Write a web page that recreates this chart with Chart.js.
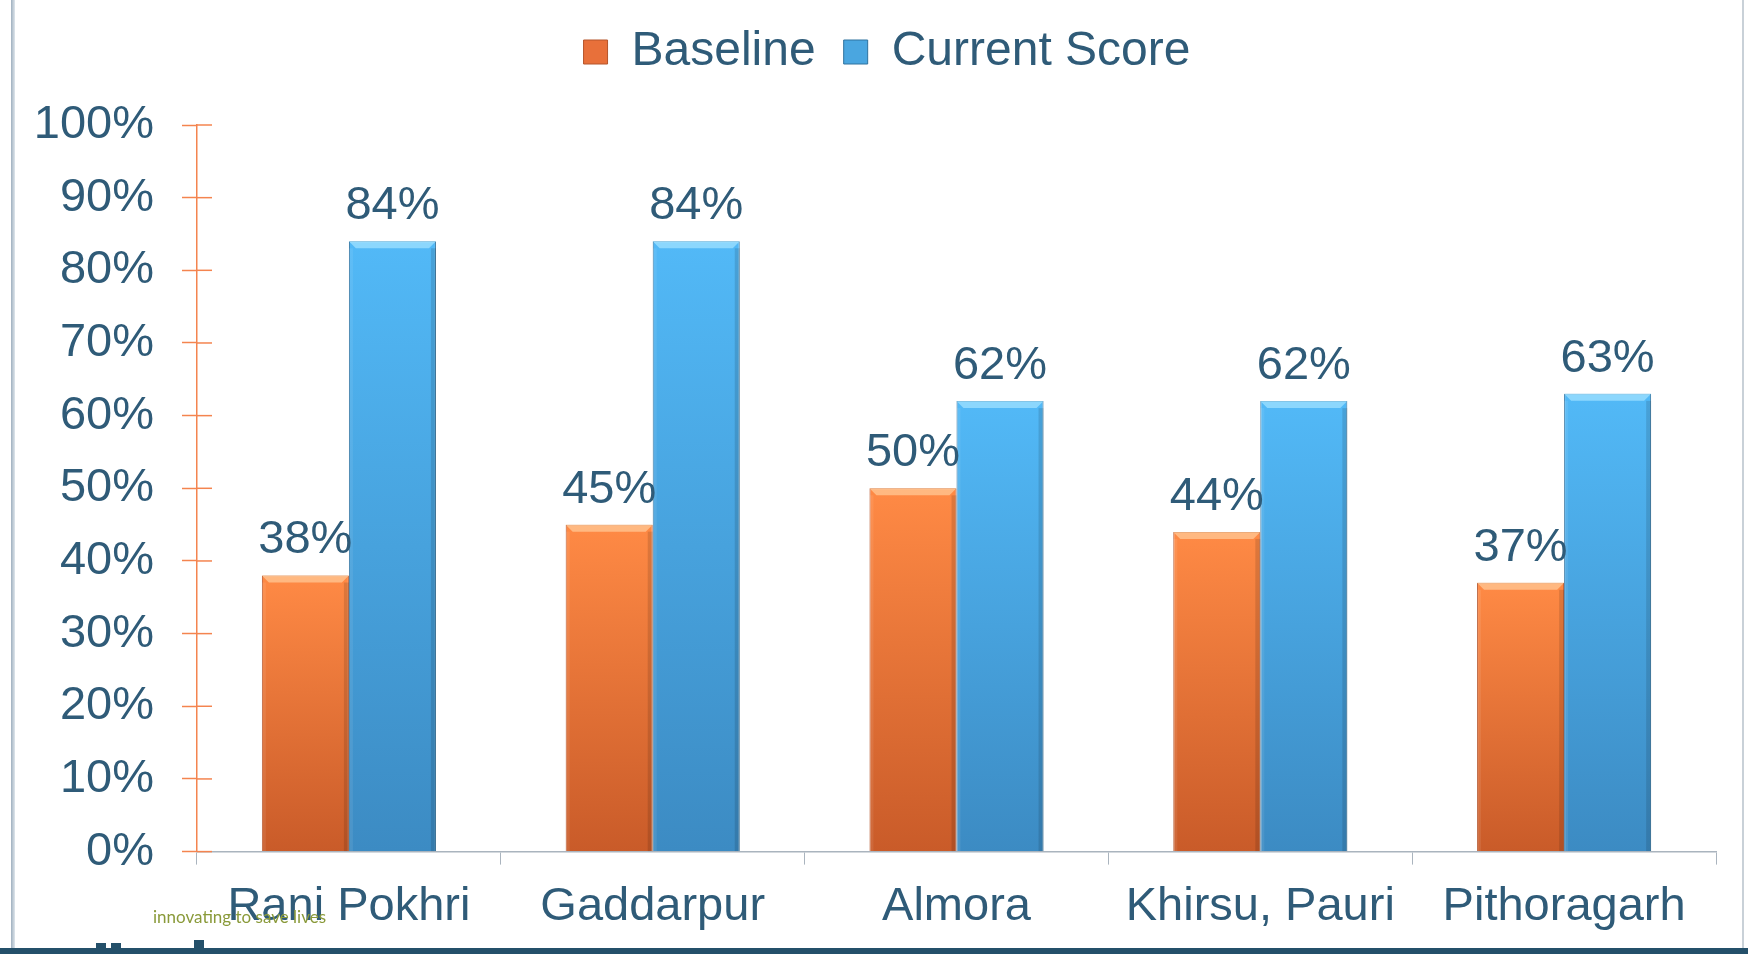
<!DOCTYPE html>
<html>
<head>
<meta charset="utf-8">
<script src="https://cdn.jsdelivr.net/npm/chart.js@4/dist/chart.umd.min.js"></script>
<style>
  html, body { margin: 0; padding: 0; background: #fff; }
  #wrap { position: relative; width: 1748px; height: 954px; overflow: hidden; }
  #chart { position: absolute; left: 0; top: 0; }
  .frame-left { position: absolute; left: 11px; top: 0; width: 4px; height: 954px;
    background: linear-gradient(to right, #9fb0bf, #dfe6ec); }
  .frame-right { position: absolute; left: 1742px; top: 0; width: 2px; height: 954px; background: #c9d1d8; }
  .band { position: absolute; left: 0; top: 948px; width: 1748px; height: 6px; background: #24506a; }
  .logo { position: absolute; background: #24506a; }
  .tagline { position: absolute; left: 153px; top: 906px; font-family: Lato, "DejaVu Sans", sans-serif;
    font-size: 17px; color: #8a9a3a; }
</style>
</head>
<body>
<div id="wrap">
  <canvas id="chart" width="1748" height="954"></canvas>
  <div class="frame-left"></div>
  <div class="frame-right"></div>
  <div class="band"></div>
  <div class="logo" style="left:96px; top:943px; width:10px; height:6px;"></div>
  <div class="logo" style="left:111px; top:943px; width:10px; height:6px;"></div>
  <div class="logo" style="left:194px; top:940px; width:10px; height:9px;"></div>
  <div class="tagline">innovating to save lives</div>
</div>
<script>
const CATEGORIES = ['Rani Pokhri', 'Gaddarpur', 'Almora', 'Khirsu, Pauri', 'Pithoragarh'];
const BASELINE = [0.38, 0.45, 0.50, 0.44, 0.37];
const CURRENT = [0.84, 0.84, 0.62, 0.62, 0.63];
const Y_TICKS = [0, 0.1, 0.2, 0.3, 0.4, 0.5, 0.6, 0.7, 0.8, 0.9, 1.0];

const TEXT = '#2f5b78';
const FONT = 'Liberation Sans, Arial, sans-serif';

function barGradient(top, bottom) {
  return ctx => {
    const chart = ctx.chart;
    if (!chart.chartArea || ctx.raw == null) return top;
    const y = chart.scales.y;
    const g = chart.ctx.createLinearGradient(0, y.getPixelForValue(ctx.raw), 0, y.getPixelForValue(0));
    g.addColorStop(0, top);
    g.addColorStop(1, bottom);
    return g;
  };
}

// legend sits above the top padding, nudged right like the original slide
const legendShift = {
  id: 'legendShift',
  afterLayout(chart) {
    const lg = chart.legend;
    lg.top -= 39; lg.bottom -= 39;
    lg.left += 29; lg.right += 29;
  }
};

// bevel look: light top cap and darker side edges on each bar
const bevelPlugin = {
  id: 'bevel',
  afterDatasetsDraw(chart) {
    const c = chart.ctx;
    const caps = ['rgba(255,200,150,0.75)', 'rgba(160,225,255,0.75)'];
    chart.data.datasets.forEach((ds, di) => {
      chart.getDatasetMeta(di).data.forEach(bar => {
        const { x, y, width } = bar.getProps(['x', 'y', 'width'], true);
        const l = x - width / 2, r = x + width / 2, d = 7;
        c.save();
        c.fillStyle = caps[di];
        c.beginPath();
        c.moveTo(l, y); c.lineTo(r, y); c.lineTo(r - d, y + d); c.lineTo(l + d, y + d);
        c.closePath();
        c.fill();
        c.fillStyle = 'rgba(0,0,0,0.12)';
        c.fillRect(r - 5, y + d, 5, bar.base - y - d);
        c.fillStyle = 'rgba(255,255,255,0.08)';
        c.fillRect(l, y + d, 4, bar.base - y - d);
        c.restore();
      });
    });
  }
};

const labelPlugin = {
  id: 'valueLabels',
  afterDatasetsDraw(chart) {
    const c = chart.ctx;
    c.save();
    c.font = `47px ${FONT}`;
    c.fillStyle = TEXT;
    c.textAlign = 'center';
    c.textBaseline = 'alphabetic';
    chart.data.datasets.forEach((ds, di) => {
      chart.getDatasetMeta(di).data.forEach((bar, i) => {
        c.fillText(Math.round(ds.data[i] * 100) + '%', bar.x, bar.y - 22);
      });
    });
    c.restore();
  }
};

// y tick marks cross the axis into the plot
const yTickPlugin = {
  id: 'yTicksInside',
  afterDraw(chart) {
    const c = chart.ctx, y = chart.scales.y, left = chart.chartArea.left;
    c.save();
    c.strokeStyle = '#f4844f';
    c.lineWidth = 1.5;
    y.ticks.forEach(t => {
      const py = y.getPixelForValue(t.value);
      c.beginPath(); c.moveTo(left, py); c.lineTo(left + 15, py); c.stroke();
    });
    c.restore();
  }
};

new Chart(document.getElementById('chart'), {
  type: 'bar',
  data: {
    labels: CATEGORIES,
    datasets: [
      {
        label: 'Baseline',
        data: BASELINE,
        backgroundColor: barGradient('#ff8a45', '#c95b29'),
        borderColor: '#b5542a',
        borderWidth: 1,
        categoryPercentage: 0.573,
        barPercentage: 1.0
      },
      {
        label: 'Current Score',
        data: CURRENT,
        backgroundColor: barGradient('#52b9f7', '#3c8bc3'),
        borderColor: '#2f729f',
        borderWidth: 1,
        categoryPercentage: 0.573,
        barPercentage: 1.0
      }
    ]
  },
  options: {
    responsive: false,
    animation: false,
    layout: { padding: { top: 39, left: 0, right: 32, bottom: 5 } },
    plugins: {
      legend: {
        position: 'top',
        labels: {
          font: { family: FONT, size: 48 },
          color: TEXT,
          boxWidth: 24,
          boxHeight: 24,
          padding: 28,
          generateLabels(chart) {
            const fills = ['#e8703a', '#4aa6e0'];
            return chart.data.datasets.map((ds, i) => ({
              text: ds.label,
              fillStyle: fills[i],
              strokeStyle: i ? '#2f729f' : '#b5542a',
              lineWidth: 1,
              fontColor: TEXT,
              datasetIndex: i,
              hidden: false
            }));
          }
        }
      },
      tooltip: { enabled: false }
    },
    scales: {
      x: {
        grid: {
          display: true,
          drawOnChartArea: false,
          offset: true,
          tickLength: 13,
          tickColor: '#aab4be'
        },
        border: { color: '#aab4be', width: 1.5 },
        ticks: {
          font: { family: FONT, size: 47 },
          color: TEXT,
          padding: 14,
          maxRotation: 0,
          autoSkip: false
        }
      },
      y: {
        min: 0,
        max: 1,
        afterBuildTicks: scale => { scale.ticks = Y_TICKS.map(v => ({ value: v })); },
        afterFit: scale => { scale.width = 197; },
        grid: {
          display: true,
          drawOnChartArea: false,
          tickLength: 15,
          tickColor: '#f4844f',
          tickWidth: 1.5
        },
        border: { color: '#f4844f', width: 1.5 },
        ticks: {
          font: { family: FONT, size: 47 },
          color: TEXT,
          padding: 28,
          callback: v => Math.round(v * 100) + '%'
        }
      }
    }
  },
  plugins: [legendShift, bevelPlugin, labelPlugin, yTickPlugin]
});
</script>
</body>
</html>
